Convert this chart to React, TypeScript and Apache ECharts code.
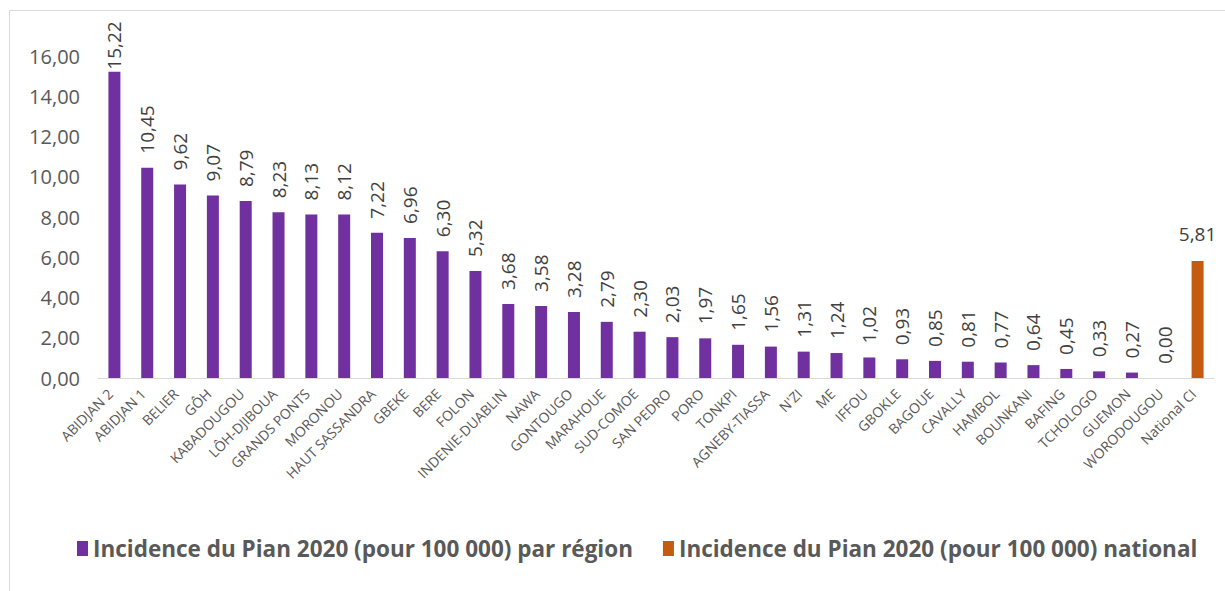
import React, { useEffect, useRef } from "react";
import * as echarts from "echarts";

const categories = [
  "ABIDJAN 2", "ABIDJAN 1", "BELIER", "GÔH", "KABADOUGOU", "LÔH-DJIBOUA", "GRANDS PONTS",
  "MORONOU", "HAUT SASSANDRA", "GBEKE", "BERE", "FOLON", "INDENIE-DUABLIN", "NAWA",
  "GONTOUGO", "MARAHOUE", "SUD-COMOE", "SAN PEDRO", "PORO", "TONKPI", "AGNEBY-TIASSA",
  "N'ZI", "ME", "IFFOU", "GBOKLE", "BAGOUE", "CAVALLY", "HAMBOL", "BOUNKANI", "BAFING",
  "TCHOLOGO", "GUEMON", "WORODOUGOU", "National CI",
];

const regionValues = [
  15.22, 10.45, 9.62, 9.07, 8.79, 8.23, 8.13, 8.12, 7.22, 6.96, 6.3, 5.32, 3.68, 3.58,
  3.28, 2.79, 2.3, 2.03, 1.97, 1.65, 1.56, 1.31, 1.24, 1.02, 0.93, 0.85, 0.81, 0.77,
  0.64, 0.45, 0.33, 0.27, 0.0,
];

const nationalValue = 5.81;

const seriesNames = [
  "Incidence du Pian 2020 (pour 100 000) par région",
  "Incidence du Pian 2020 (pour 100 000) national",
];

const fmt = (v: number) => v.toFixed(2).replace(".", ",");

export default function App() {
  const ref = useRef<HTMLDivElement>(null);
  useEffect(() => {
    if (!ref.current) return;
    const chart = echarts.init(ref.current, undefined, { renderer: "svg" });
    const font = "'Open Sans', 'Liberation Sans', sans-serif";
    const regionData: any[] = regionValues.map((v, i) =>
      i === 0 ? { value: v, label: { distance: 2 } } : v
    );
    regionData.push("-");
    const nationalData: any[] = categories.map((_, i) =>
      i === categories.length - 1 ? nationalValue : "-"
    );
    chart.setOption({
      animation: false,
      backgroundColor: "#fff",
      textStyle: { fontFamily: font },
      graphic: [
        {
          type: "rect",
          shape: { x: 9.5, y: 10.5, width: 1230, height: 600 },
          style: { fill: "none", stroke: "#D9D9D9", lineWidth: 1 },
          silent: true,
        },
      ],
      grid: { left: 98, right: 11, top: 56, bottom: 213, containLabel: false },
      legend: {
        bottom: 26,
        left: 72,
        itemWidth: 11,
        itemHeight: 15,
        itemGap: 30,
        icon: "rect",
        textStyle: { fontSize: 22.5, fontWeight: "bold", color: "#595959", fontFamily: font },
        data: seriesNames,
      },
      xAxis: {
        type: "category",
        data: categories,
        axisLine: { lineStyle: { color: "#D9D9D9", width: 1 } },
        axisTick: { show: false },
        axisLabel: {
          rotate: 45,
          interval: 0,
          fontSize: 14,
          color: "#595959",
          margin: 9,
          padding: [0, 6, 0, 0],
          fontFamily: font,
        },
      },
      yAxis: {
        type: "value",
        min: 0,
        max: 16,
        interval: 2,
        splitLine: { show: false },
        axisLine: { show: false },
        axisTick: { show: false },
        axisLabel: {
          fontSize: 20,
          color: "#595959",
          margin: 18,
          formatter: (v: number) => fmt(v),
          fontFamily: font,
        },
      },
      series: [
        {
          name: seriesNames[0],
          type: "bar",
          data: regionData,
          barWidth: 12,
          barGap: "-100%",
          itemStyle: { color: "#7030A0" },
          label: {
            show: true,
            position: "top",
            rotate: 90,
            align: "left",
            verticalAlign: "middle",
            distance: 14,
            fontSize: 19,
            color: "#404040",
            formatter: (p: any) => fmt(p.value),
          },
        },
        {
          name: seriesNames[1],
          type: "bar",
          data: nationalData,
          barWidth: 12,
          barGap: "-100%",
          itemStyle: { color: "#C55A11" },
          label: {
            show: true,
            position: "top",
            distance: 18,
            fontSize: 19,
            color: "#404040",
            formatter: (p: any) => fmt(p.value),
          },
        },
      ],
    });
    return () => chart.dispose();
  }, []);
  return (
    <div
      ref={ref}
      style={{ position: "fixed", left: 0, top: 0, width: 1225, height: 591 }}
    />
  );
}
